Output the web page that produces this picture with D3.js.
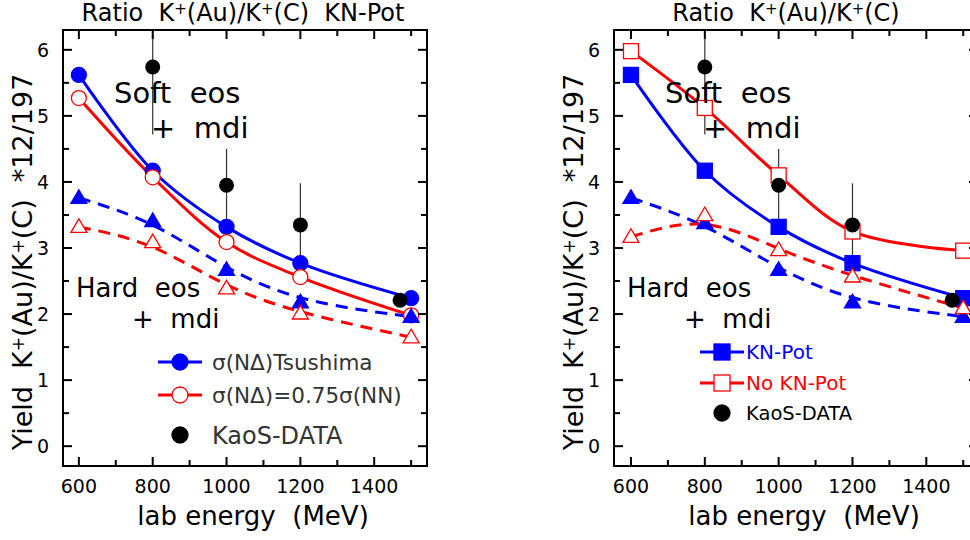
<!DOCTYPE html>
<meta charset="utf-8">
<script src="https://d3js.org/d3.v7.min.js"></script>
<style>
  body { margin: 0; background: #fff; }
  text { font-family: "DejaVu Sans", sans-serif; white-space: pre; }
</style>
<div id="chart"></div>
<script>
  // beam energies of the calculations (MeV)
  const energies = [600, 800, 1000, 1200, 1500];

  // left panel: soft / hard eos, two sigma(N Delta) choices
  const softTsushima = [5.62, 4.17, 3.32, 2.77, 2.24];
  const softScaled = [5.27, 4.07, 3.09, 2.56, 1.98];
  const hardTsushima = [3.76, 3.41, 2.67, 2.18, 1.96];
  const hardScaled = [3.32, 3.09, 2.39, 2.01, 1.65];

  // right panel: with / without KN potential
  const softKN = [5.62, 4.17, 3.32, 2.77, 2.24];
  const softNoKN = [5.98, 5.12, 4.10, 3.25, 2.96];
  const hardKN = [3.76, 3.38, 2.67, 2.18, 1.96];
  const hardNoKN = [3.17, 3.50, 2.97, 2.57, 2.09];

  // KaoS measurement
  const kaosE = [800, 1000, 1200, 1470];
  const kaosY = [5.74, 3.95, 3.35, 2.21];
  const kaosErr = [1.02, 0.55, 0.63, 0.1];

  const xTicks = [600, 800, 1000, 1200, 1400];
  const yTicks = [0, 1, 2, 3, 4, 5, 6];

  const width = 970, height = 540;
  const svg = d3.select("#chart").append("svg")
    .attr("width", width).attr("height", height);

  const blue = "#0000ff", red = "#ff0000";
  const tickFont = "'Liberation Sans Narrow', 'Liberation Sans', sans-serif";

  function supText(sel, parts, supSize) {
    // "^+" entries are raised
    parts.forEach(p => {
      if (p === "^+") {
        sel.append("tspan").attr("font-size", supSize).attr("baseline-shift", "45%").text("+");
      } else {
        sel.append("tspan").text(p);
      }
    });
  }

  function triangle(g, x, y, filled, color) {
    const s = 8;
    g.append("path")
      .attr("d", `M${x},${y - s}L${x + s},${y + s * 0.7}L${x - s},${y + s * 0.7}Z`)
      .attr("fill", filled ? color : "#fff")
      .attr("stroke", color).attr("stroke-width", 1.3);
  }

  function drawPanel(p) {
    const x = d3.scaleLinear().domain(p.xDomain).range([p.left, p.right]);
    const y = d3.scaleLinear().domain([-0.3, 6.3]).range([466, 30]);
    const g = svg.append("g");

    const clipId = "clip" + p.id;
    svg.append("clipPath").attr("id", clipId)
      .append("rect").attr("x", p.left).attr("y", 30)
      .attr("width", p.right - p.left).attr("height", 436);

    const plot = g.append("g").attr("clip-path", `url(#${clipId})`);

    // curves
    const line = (curve) => d3.line()
      .x((d, i) => x(energies[i])).y(d => y(d)).curve(curve);

    p.series.forEach(s => {
      plot.append("path")
        .datum(s.values)
        .attr("d", line(s.dashed ? d3.curveBasis : d3.curveCatmullRom.alpha(0.5)))
        .attr("fill", "none")
        .attr("stroke", s.color)
        .attr("stroke-width", 3)
        .attr("stroke-dasharray", s.dashed ? "12,8" : null);
    });

    // error bars of the data
    kaosE.forEach((e, i) => {
      plot.append("line")
        .attr("x1", x(e)).attr("x2", x(e))
        .attr("y1", y(kaosY[i] - kaosErr[i])).attr("y2", y(kaosY[i] + kaosErr[i]))
        .attr("stroke", "#333").attr("stroke-width", 1.2);
    });

    // markers
    p.series.forEach(s => {
      s.values.forEach((v, i) => {
        const cx = x(energies[i]), cy = y(v);
        if (s.marker === "circle") {
          plot.append("circle").attr("cx", cx).attr("cy", cy).attr("r", 7.5)
            .attr("fill", s.filled ? s.color : "#fff")
            .attr("stroke", s.color).attr("stroke-width", 1.3);
        } else if (s.marker === "square") {
          plot.append("rect").attr("x", cx - 7.5).attr("y", cy - 7.5)
            .attr("width", 15).attr("height", 15)
            .attr("fill", s.filled ? s.color : "#fff")
            .attr("stroke", s.color).attr("stroke-width", 1.3);
        } else {
          triangle(plot, cx, cy, s.filled, s.color);
        }
      });
    });

    kaosE.forEach((e, i) => {
      plot.append("circle").attr("cx", x(e)).attr("cy", y(kaosY[i]))
        .attr("r", 7.5).attr("fill", "#000");
    });

    // frame
    g.append("rect")
      .attr("x", p.left).attr("y", 30)
      .attr("width", p.right - p.left).attr("height", 436)
      .attr("fill", "none").attr("stroke", "#000").attr("stroke-width", 2);

    // ticks, all pointing inward
    d3.range(600, 1600, 100).forEach(v => {
      const len = v % 200 === 0 ? 9 : 6;
      g.append("line").attr("x1", x(v)).attr("x2", x(v))
        .attr("y1", 466).attr("y2", 466 - len).attr("stroke", "#000").attr("stroke-width", 2);
      g.append("line").attr("x1", x(v)).attr("x2", x(v))
        .attr("y1", 30).attr("y2", 30 + len).attr("stroke", "#000").attr("stroke-width", 2);
    });
    d3.range(0, 6.5, 0.5).forEach(v => {
      const len = v % 1 === 0 ? 9 : 6;
      g.append("line").attr("x1", p.left).attr("x2", p.left + len)
        .attr("y1", y(v)).attr("y2", y(v)).attr("stroke", "#000").attr("stroke-width", 2);
      g.append("line").attr("x1", p.right).attr("x2", p.right - len)
        .attr("y1", y(v)).attr("y2", y(v)).attr("stroke", "#000").attr("stroke-width", 2);
    });

    // tick labels
    g.selectAll(".xl").data(xTicks).join("text")
      .attr("x", d => x(d)).attr("y", 493)
      .attr("text-anchor", "middle").attr("font-size", 19)
      .attr("font-family", tickFont)
      .text(d => d);
    g.selectAll(".yl").data(yTicks).join("text")
      .attr("x", p.left - 20).attr("y", d => y(d) + 7)
      .attr("text-anchor", "middle").attr("font-size", 19)
      .attr("font-family", tickFont)
      .text(d => d);

    // axis titles
    g.append("text")
      .attr("x", (p.left + p.right) / 2 + 8).attr("y", 525)
      .attr("text-anchor", "middle").attr("font-size", 26)
      .text("lab energy  (MeV)");

    const yt = g.append("text")
      .attr("transform", `translate(${p.left - 31},262) rotate(-90)`)
      .attr("text-anchor", "middle").attr("font-size", 27);
    supText(yt, ["Yield  K", "^+", "(Au)/K", "^+", "(C)  *12/197"], 17);

    const tt = g.append("text")
      .attr("x", p.titleX).attr("y", 21)
      .attr("text-anchor", "middle").attr("font-size", 24);
    supText(tt, p.title, 15);

    // eos labels, two lines each
    p.notes.forEach(n => {
      const t = g.append("text").attr("font-size", n.size);
      t.append("tspan").attr("x", n.x).attr("y", n.y).text(n.line1);
      t.append("tspan").attr("x", n.x + n.dx2).attr("y", n.y + n.dy2).text(n.line2);
    });

    // legend
    p.legend.forEach(l => {
      if (l.color !== "#000") {
        g.append("line").attr("x1", l.x - 22).attr("x2", l.x + 22)
          .attr("y1", l.y).attr("y2", l.y)
          .attr("stroke", l.color).attr("stroke-width", 3);
      }
      if (l.marker === "circle") {
        g.append("circle").attr("cx", l.x).attr("cy", l.y).attr("r", 8)
          .attr("fill", l.filled ? l.color : "#fff")
          .attr("stroke", l.color).attr("stroke-width", 1.3);
      } else {
        g.append("rect").attr("x", l.x - 8).attr("y", l.y - 8)
          .attr("width", 16).attr("height", 16)
          .attr("fill", l.filled ? l.color : "#fff")
          .attr("stroke", l.color).attr("stroke-width", 1.3);
      }
      g.append("text").attr("x", l.x + l.dx).attr("y", l.y + l.size * 0.36)
        .attr("font-size", l.size).attr("fill", l.textColor)
        .text(l.text);
    });
  }

  drawPanel({
    id: "L", left: 63, right: 427, xDomain: [557, 1543], titleX: 243,
    title: ["Ratio  K", "^+", "(Au)/K", "^+", "(C)  KN-Pot"],
    series: [
      { values: softTsushima, color: blue, marker: "circle", filled: true },
      { values: softScaled, color: red, marker: "circle", filled: false },
      { values: hardTsushima, color: blue, marker: "triangle", filled: true, dashed: true },
      { values: hardScaled, color: red, marker: "triangle", filled: false, dashed: true }
    ],
    notes: [
      { x: 114, y: 103, size: 29, line1: "Soft  eos", dx2: 37, dy2: 35, line2: "+  mdi" },
      { x: 76, y: 297, size: 26, line1: "Hard  eos", dx2: 56, dy2: 31, line2: "+  mdi" }
    ],
    legend: [
      { x: 180, y: 362, color: blue, marker: "circle", filled: true, dx: 32, size: 21.5, textColor: "#333", text: "σ(NΔ)Tsushima" },
      { x: 180, y: 395, color: red, marker: "circle", filled: false, dx: 32, size: 21.5, textColor: "#333", text: "σ(NΔ)=0.75σ(NN)" },
      { x: 180, y: 435, color: "#000", marker: "circle", filled: true, dx: 32, size: 24, textColor: "#333", text: "KaoS-DATA" }
    ]
  });

  drawPanel({
    id: "R", left: 614, right: 978, xDomain: [554, 1540], titleX: 786,
    title: ["Ratio  K", "^+", "(Au)/K", "^+", "(C)"],
    series: [
      { values: softKN, color: blue, marker: "square", filled: true },
      { values: softNoKN, color: red, marker: "square", filled: false },
      { values: hardKN, color: blue, marker: "triangle", filled: true, dashed: true },
      { values: hardNoKN, color: red, marker: "triangle", filled: false, dashed: true }
    ],
    notes: [
      { x: 665, y: 103, size: 29, line1: "Soft  eos", dx2: 38, dy2: 35, line2: "+  mdi" },
      { x: 627, y: 297, size: 26, line1: "Hard  eos", dx2: 57, dy2: 31, line2: "+  mdi" }
    ],
    legend: [
      { x: 722, y: 352, color: blue, marker: "square", filled: true, dx: 24, size: 20, textColor: blue, text: "KN-Pot" },
      { x: 722, y: 383, color: red, marker: "square", filled: false, dx: 24, size: 20, textColor: red, text: "No KN-Pot" },
      { x: 722, y: 413, color: "#000", marker: "circle", filled: true, dx: 24, size: 19.5, textColor: "#000", text: "KaoS-DATA" }
    ]
  });
</script>
